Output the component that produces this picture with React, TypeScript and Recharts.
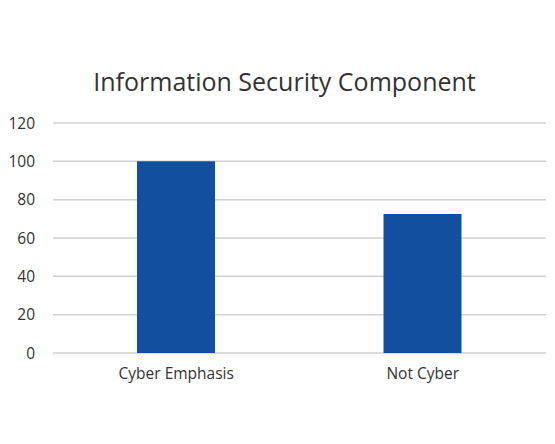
import React from "react";
import { BarChart, Bar, XAxis, YAxis, CartesianGrid } from "recharts";

const categories = ["Cyber Emphasis", "Not Cyber"];
const counts = [100, 72.5];
const yTicks = [0, 20, 40, 60, 80, 100, 120];

const FONT = "'Open Sans', 'Noto Sans', sans-serif";

export default function App() {
  const data = categories.map((name, i) => ({ name, value: counts[i] }));

  return (
    <div style={{ position: "absolute", left: 0, top: 0, width: 555, height: 444, background: "#fff", fontFamily: FONT }}>
      <div
        style={{
          position: "absolute",
          left: 0,
          width: 569,
          top: 64,
          textAlign: "center",
          fontSize: 25,
          color: "#333",
        }}
      >
        Information Security Component
      </div>
      <BarChart
        width={555}
        height={444}
        data={data}
        margin={{ top: 123, right: 9, left: 0, bottom: 61 }}
        barSize={78}
      >
        <CartesianGrid vertical={false} stroke="#d0d0d0" strokeWidth={1.5} />
        <XAxis
          dataKey="name"
          axisLine={false}
          tickLine={false}
          tickSize={0}
          tickMargin={15}
          height={30}
          tick={{ fill: "#333", fontSize: 15.5, fontFamily: FONT }}
        />
        <YAxis
          domain={[0, 120]}
          ticks={yTicks}
          axisLine={false}
          tickLine={false}
          tickSize={0}
          tickMargin={18}
          width={53}
          tick={{ fill: "#333", fontSize: 15.5, fontFamily: FONT }}
        />
        <Bar dataKey="value" fill="#12509f" isAnimationActive={false} />
      </BarChart>
    </div>
  );
}
